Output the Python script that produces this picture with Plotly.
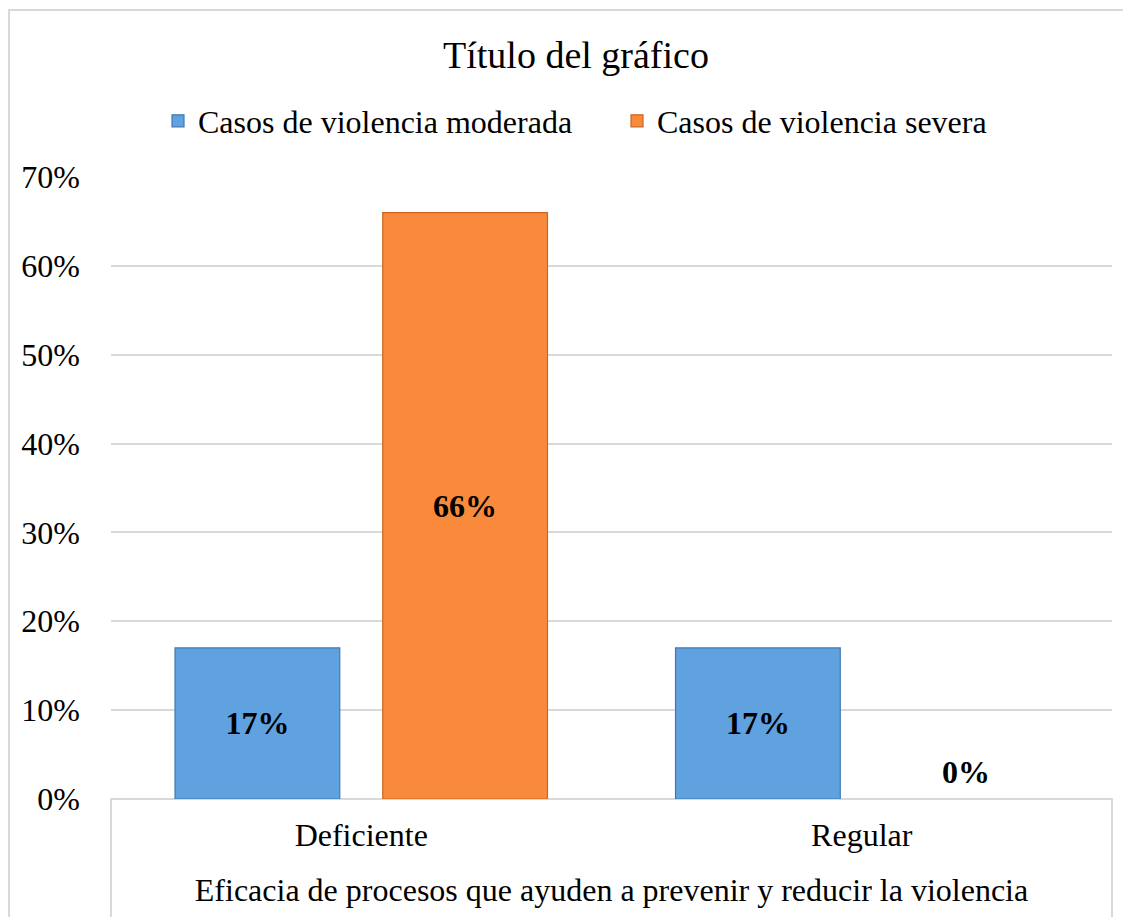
import plotly.graph_objects as go

categories = ["Deficiente", "Regular"]
series_names = ["Casos de violencia moderada", "Casos de violencia severa"]
moderada = [0.17, 0.17]
severa = [0.66, 0.0]
y_ticks = [0, 0.1, 0.2, 0.3, 0.4, 0.5, 0.6, 0.7]
title_text = "Título del gráfico"
x_title = "Eficacia de procesos que ayuden a prevenir y reducir la violencia"

FONT = "Liberation Serif"
colors = ["#60A2E0", "#F98A3C"]
edges = ["#3E78B0", "#C9661F"]

W, H = 1123, 909
L, R, T, B = 103, 19, 169, 118
pw, ph = W - L - R, H - T - B

fig = go.Figure()
annotations = []
for name, vals, c, e in zip(series_names, [moderada, severa], colors, edges):
    texts = [f"<b>{round(v*100)}%</b>" if v > 0 else "" for v in vals]
    lw = [1.2 if v > 0 else 0 for v in vals]
    fig.add_trace(go.Bar(
        name=name, x=categories, y=vals, text=texts,
        textposition="inside", insidetextanchor="middle", textangle=0,
        textfont=dict(family=FONT, size=32, color="black"),
        marker=dict(color=c, line=dict(color=e, width=lw)),
        offsetgroup=name,
    ))

# zero-value labels (shown just above the baseline)
for i, v in enumerate(severa):
    if v == 0:
        annotations.append(dict(
            x=categories[i], y=v, xref="x", yref="y", xshift=104,
            yshift=27, text="<b>0%</b>", showarrow=False,
            font=dict(family=FONT, size=32, color="black")))

fig.update_layout(
    width=W, height=H,
    margin=dict(l=L, r=R, t=T, b=B, autoexpand=False),
    paper_bgcolor="white", plot_bgcolor="white",
    barmode="group", bargap=0.17, bargroupgap=0.207,
    title=dict(text=title_text, x=(576 - 8) / W, xanchor="center",
               y=1 - 47 / H, yanchor="middle",
               font=dict(family=FONT, size=38, color="black")),
    legend=dict(orientation="h", x=(609 - L) / pw, xanchor="center",
                y=1 + (T - 113) / ph, yanchor="middle",
                font=dict(family=FONT, size=32, color="black"), itemwidth=30,
                entrywidth=414, entrywidthmode="pixels",
                traceorder="normal"),
    font=dict(family=FONT, color="black"),
    xaxis=dict(showgrid=False, showline=False, ticks="", tickangle=0,
               ticklabelstandoff=14,
               tickfont=dict(family=FONT, size=32, color="black"),
               title=dict(text=x_title, font=dict(family=FONT, size=32, color="black"), standoff=26)),
    yaxis=dict(range=[0, 0.7], tickvals=y_ticks, tickformat=".0%",
               showgrid=True, gridcolor="#D9D9D9", gridwidth=1.5,
               zeroline=False, showline=False, ticks="",
               ticklabelstandoff=30,
               tickfont=dict(family=FONT, size=32, color="black")),
    annotations=annotations,
    shapes=[
        # box under the category axis
        dict(type="rect", xref="paper", yref="paper", x0=0, x1=1, y0=-0.5, y1=0,
             line=dict(color="#D9D9D9", width=2), fillcolor="rgba(0,0,0,0)", layer="below"),
        # outer chart frame
        dict(type="rect", xref="paper", yref="paper",
             x0=(1 - L) / pw, x1=1.2, y0=-0.5, y1=1 + (T - 2) / ph,
             line=dict(color="#D9D9D9", width=2), fillcolor="rgba(0,0,0,0)", layer="below"),
    ],
)

fig.write_html("out.html")
